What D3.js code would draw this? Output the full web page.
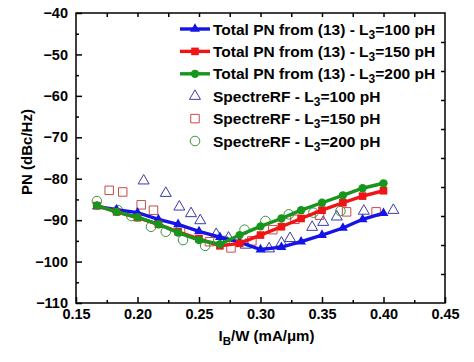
<!DOCTYPE html>
<html>
<head>
<meta charset="utf-8">
<script src="https://cdn.jsdelivr.net/npm/d3@7"></script>
<style>
  body { margin: 0; background: #fff; }
  text { font-family: "Liberation Sans", Arial, sans-serif; font-weight: bold; fill: #000; }
</style>
</head>
<body>
<div id="wrapper"></div>
<script>
// model curves (Total PN from (13))
const xTotal = [0.167, 0.183, 0.200, 0.217, 0.233, 0.250, 0.267, 0.283, 0.300, 0.317, 0.333, 0.350, 0.367, 0.383, 0.400];
const pnTotal100 = [-86.7, -87.5, -88.2, -89.8, -91.0, -92.7, -94.1, -95.3, -97.1, -96.5, -95.2, -93.6, -91.9, -89.8, -88.3];
const pnTotal150 = [-86.5, -88.0, -89.4, -91.0, -92.8, -94.5, -96.2, -95.6, -93.6, -91.6, -89.6, -87.6, -85.8, -84.2, -82.9];
const pnTotal200 = [-86.5, -88.0, -89.3, -91.0, -93.0, -94.8, -95.8, -93.6, -91.5, -89.6, -87.6, -85.8, -84.0, -82.3, -81.1];

// SpectreRF simulation points
const xSpec100 = [0.205, 0.223, 0.234, 0.2435, 0.251, 0.264, 0.274, 0.288, 0.307, 0.317, 0.324, 0.342, 0.351, 0.362, 0.384, 0.408];
const pnSpec100 = [-80.5, -83.5, -86.8, -88.4, -90.1, -93.4, -94.3, -96.0, -96.9, -95.5, -94.4, -91.7, -90.5, -89.2, -87.8, -87.6];
const xSpec150 = [0.177, 0.188, 0.203, 0.213, 0.235, 0.2585, 0.276, 0.293, 0.310, 0.328, 0.348, 0.370, 0.394];
const pnSpec150 = [-82.8, -83.2, -86.3, -87.6, -92.6, -95.2, -96.7, -95.0, -92.3, -89.8, -88.8, -88.0, -88.0];
const xSpec200 = [0.167, 0.184, 0.195, 0.211, 0.223, 0.237, 0.255, 0.271, 0.287, 0.304, 0.323, 0.343, 0.365];
const pnSpec200 = [-85.4, -87.6, -89.0, -91.6, -92.8, -94.8, -96.2, -95.0, -92.3, -90.2, -88.6, -88.2, -87.8];

const xTicks = [0.15, 0.20, 0.25, 0.30, 0.35, 0.40, 0.45];
const yTicks = [-110, -100, -90, -80, -70, -60, -50, -40];

const dimensions = {
  width: 474,
  height: 362,
  margin: {top: 13, left: 76, bottom: 59, right: 29}
};
dimensions.boundedWidth = dimensions.width - dimensions.margin.left - dimensions.margin.right;
dimensions.boundedHeight = dimensions.height - dimensions.margin.top - dimensions.margin.bottom;

const wrapper = d3.select("#wrapper").append("svg")
  .attr("width", dimensions.width)
  .attr("height", dimensions.height);
const container = wrapper.append("g")
  .attr("transform", `translate(${dimensions.margin.left}, ${dimensions.margin.top})`);

const xScale = d3.scaleLinear().domain([0.15, 0.45]).range([0, dimensions.boundedWidth]);
const yScale = d3.scaleLinear().domain([-110, -40]).range([dimensions.boundedHeight, 0]);

const W = dimensions.boundedWidth, H = dimensions.boundedHeight;

// axes: ticks pointing inward
const minorX = d3.range(0.175, 0.45, 0.05);
const minorY = d3.range(-105, -40, 10);

const fmtX = d3.format(".2f");
container.append("g").attr("transform", `translate(0, ${H})`)
  .call(d3.axisBottom(xScale).tickValues(xTicks).tickFormat(fmtX).tickSize(-6).tickPadding(4))
  .call(g => g.select(".domain").remove())
  .call(g => g.selectAll("text").style("font-size", "14.5px").attr("dy", "0.85em"));
container.append("g").attr("transform", `translate(0, ${H})`)
  .call(d3.axisBottom(xScale).tickValues(minorX).tickFormat("").tickSize(-3))
  .call(g => g.select(".domain").remove());
container.append("g")
  .call(d3.axisTop(xScale).tickValues(d3.range(0.175, 0.45, 0.025)).tickFormat("").tickSize(-4))
  .call(g => g.select(".domain").remove());

container.append("g")
  .call(d3.axisLeft(yScale).tickValues(yTicks).tickSize(-6).tickPadding(8))
  .call(g => g.select(".domain").remove())
  .call(g => g.selectAll("text").style("font-size", "14.5px"));
container.append("g")
  .call(d3.axisLeft(yScale).tickValues(minorY).tickFormat("").tickSize(-3))
  .call(g => g.select(".domain").remove());
// right axis has its own evenly spaced ticks
const rightScale = d3.scaleLinear().domain([0, 10]).range([H, 0]);
container.append("g").attr("transform", `translate(${W}, 0)`)
  .call(d3.axisRight(rightScale).tickValues(d3.range(1, 10)).tickFormat("").tickSize(-4))
  .call(g => g.select(".domain").remove());

container.selectAll(".tick line").attr("stroke", "#000").attr("stroke-width", 1.5);

container.append("rect")
  .attr("width", W).attr("height", H)
  .attr("fill", "none").attr("stroke", "#000").attr("stroke-width", 1.5);

// axis titles
container.append("text")
  .attr("transform", `translate(${-44}, ${H / 2 - 6}) rotate(-90)`)
  .attr("text-anchor", "middle")
  .style("font-size", "15px")
  .text("PN (dBc/Hz)");
const xt = container.append("text")
  .attr("x", W / 2 + 6).attr("y", H + 38)
  .attr("text-anchor", "middle")
  .style("font-size", "15px");
xt.append("tspan").text("I");
xt.append("tspan").attr("dy", 4).style("font-size", "11.5px").text("B");
xt.append("tspan").attr("dy", -4).text("/W (mA/\u03bcm)");

// series
const series = [
  {name: "100", x: xTotal, y: pnTotal100, color: "#1414e6", symbol: d3.symbolTriangle, size: 42},
  {name: "150", x: xTotal, y: pnTotal150, color: "#f01414", symbol: d3.symbolSquare, size: 58},
  {name: "200", x: xTotal, y: pnTotal200, color: "#17951c", symbol: d3.symbolCircle, size: 54}
];
const spectre = [
  {name: "100", x: xSpec100, y: pnSpec100, color: "#3b3ba6", symbol: d3.symbolTriangle, size: 52},
  {name: "150", x: xSpec150, y: pnSpec150, color: "#c94a4a", symbol: d3.symbolSquare, size: 72},
  {name: "200", x: xSpec200, y: pnSpec200, color: "#3e9140", symbol: d3.symbolCircle, size: 72}
];

const line = d3.line().x(d => xScale(d[0])).y(d => yScale(d[1]));

spectre.forEach(s => {
  container.append("g").selectAll("path")
    .data(d3.zip(s.x, s.y))
    .enter()
    .append("path")
    .attr("d", d3.symbol().type(s.symbol).size(s.size))
    .attr("fill", "none")
    .attr("stroke", s.color)
    .attr("stroke-width", 1)
    .attr("transform", d => `translate(${xScale(d[0])}, ${yScale(d[1])})`);
});

series.forEach(s => {
  const pts = d3.zip(s.x, s.y);
  container.append("path")
    .datum(pts)
    .attr("d", line)
    .attr("fill", "none")
    .attr("stroke", s.color)
    .attr("stroke-width", 3.4);
  container.append("g").selectAll("path")
    .data(pts)
    .enter()
    .append("path")
    .attr("d", d3.symbol().type(s.symbol).size(s.size))
    .attr("fill", s.color)
    .attr("transform", d => `translate(${xScale(d[0])}, ${yScale(d[1])})`);
});

// legend
const legend = container.append("g").attr("transform", `translate(${180 - dimensions.margin.left}, 0)`);
const rows = series.map(s => ({...s, label: "Total PN from (13) - L", open: false}))
  .concat(spectre.map(s => ({...s, label: "SpectreRF - L", open: true})));
rows.forEach((r, i) => {
  const yy = 29 - dimensions.margin.top + i * 22.4;
  const g = legend.append("g").attr("transform", `translate(0, ${yy})`);
  if (!r.open) {
    g.append("line").attr("x1", 0).attr("x2", 30).attr("stroke", r.color).attr("stroke-width", 3.4);
    g.append("path").attr("d", d3.symbol().type(r.symbol).size(r.size)).attr("fill", r.color)
      .attr("transform", "translate(15, 0)");
  } else {
    g.append("path").attr("d", d3.symbol().type(r.symbol).size(r.size)).attr("fill", "none")
      .attr("stroke", r.color).attr("transform", "translate(15, 0)");
  }
  const t = g.append("text").attr("x", 33).attr("y", 5.5).style("font-size", "15.5px");
  t.append("tspan").text(r.label);
  t.append("tspan").attr("dy", 4).style("font-size", "12px").text("3");
  t.append("tspan").attr("dy", -4).text("=" + r.name + " pH");
});
</script>
</body>
</html>
